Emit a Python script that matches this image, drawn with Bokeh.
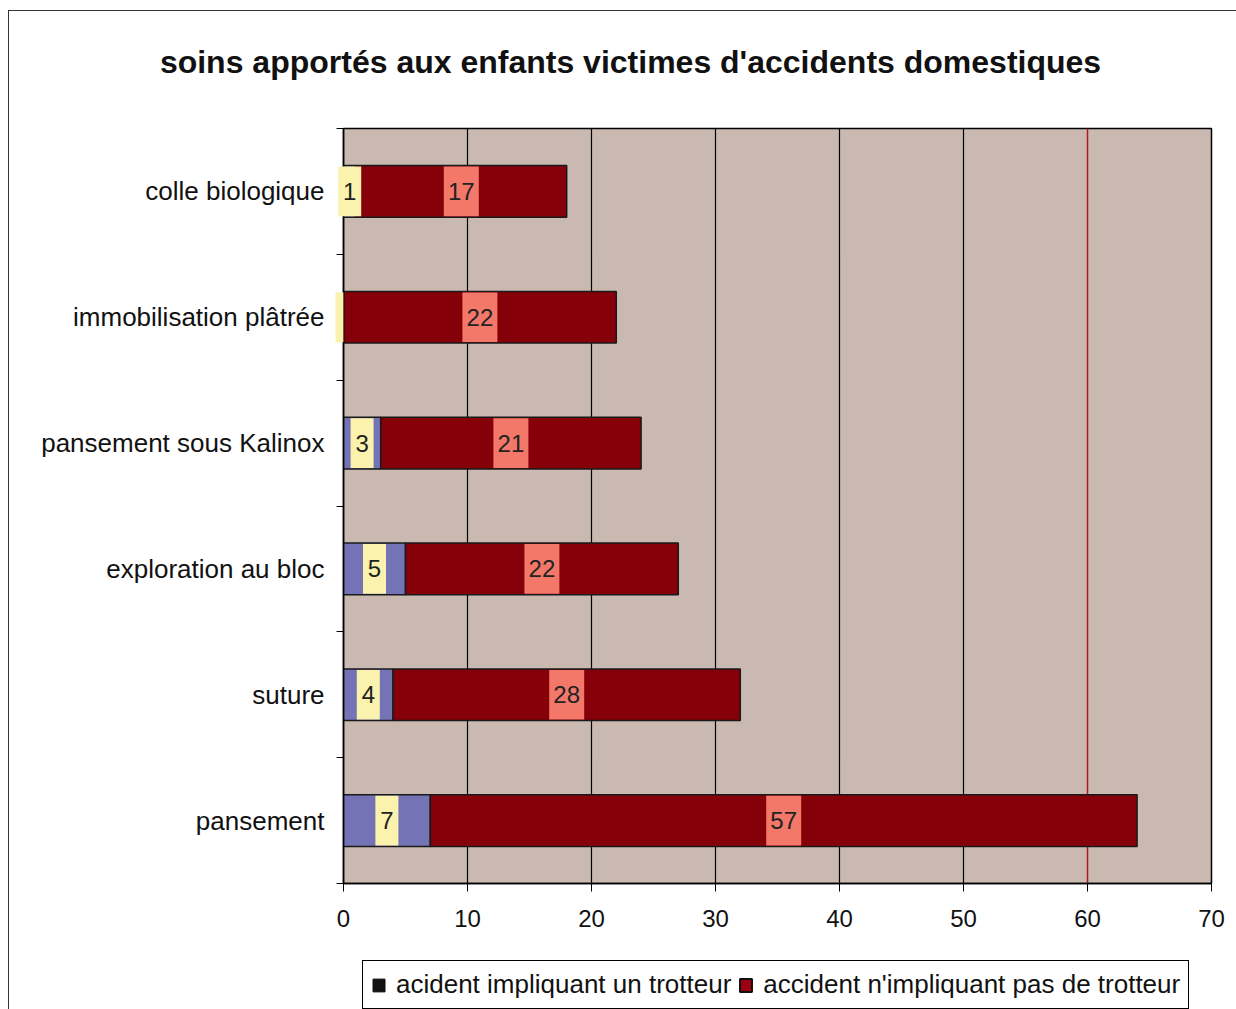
from bokeh.plotting import figure
from bokeh.layouts import column
from bokeh.models import Range1d, FixedTicker, Grid, Legend, LegendItem, Label
from bokeh.core.properties import value
from bokeh.embed import file_html
from bokeh.resources import INLINE

# ---- data ----
categories = ["colle biologique", "immobilisation plâtrée", "pansement sous Kalinox",
              "exploration au bloc", "suture", "pansement"]
trotteur = [1, 0, 3, 5, 4, 7]
non_trotteur = [17, 22, 21, 22, 28, 57]
x_ticks = [0, 10, 20, 30, 40, 50, 60, 70]
series_names = ["acident impliquant un trotteur", "accident n'impliquant pas de trotteur"]
title_text = "soins apportés aux enfants victimes d'accidents domestiques"

FONT = "Liberation Sans"
TAN = "#c9b9b1"
LAVENDER = "#7373b5"
DARKRED = "#850008"
SALMON = "#f3786a"
YELLOW = "#fbf3ad"

n = len(categories)
ys = [n - i - 0.5 for i in range(n)]           # first category at top
totals = [a + b for a, b in zip(trotteur, non_trotteur)]
tr_mid = [a / 2 for a in trotteur]
nt_mid = [a + b / 2 for a, b in zip(trotteur, non_trotteur)]


def strip(height):
    f = figure(width=1227, height=height, output_backend="svg", toolbar_location=None,
               x_range=Range1d(0, 1), y_range=Range1d(0, 1),
               min_border_left=0, min_border_right=0, min_border_top=0, min_border_bottom=0)
    f.axis.visible = False
    f.grid.visible = False
    f.outline_line_color = None
    f.background_fill_color = "white"
    f.border_fill_color = "white"
    return f


# ---- title strip ----
t = strip(100)
t.frame_align = False
t.add_layout(Label(x=621, y=50, x_units="screen", y_units="screen", text=title_text,
                   text_align="center", text_baseline="middle", text_font=FONT,
                   text_font_size="32px", text_font_style="bold", text_color="#111"))

# ---- main chart ----
p = figure(width=1227, height=840, output_backend="svg", toolbar_location=None,
           x_range=Range1d(0, 70), y_range=Range1d(0, n),
           min_border_left=334, min_border_right=25, min_border_top=17, min_border_bottom=68)
p.background_fill_color = TAN
p.border_fill_color = "white"
p.outline_line_color = "black"
p.outline_line_width = 1.5

xa = p.xaxis[0]
xa.ticker = FixedTicker(ticks=x_ticks, minor_ticks=[])
xa.axis_line_color = "black"
xa.axis_line_width = 1.5
xa.major_tick_line_color = "black"
xa.major_tick_out = 8
xa.major_tick_in = 0
xa.major_label_standoff = 18
xa.major_label_text_font = FONT
xa.major_label_text_font_size = "24px"
xa.major_label_text_color = "#111"

ya = p.yaxis[0]
ya.ticker = FixedTicker(ticks=ys, minor_ticks=list(range(n + 1)))
ya.major_label_overrides = {y: c for y, c in zip(ys, categories)}
ya.axis_line_color = "black"
ya.axis_line_width = 1.5
ya.major_tick_line_color = None
ya.major_tick_out = 0
ya.major_tick_in = 0
ya.minor_tick_line_color = "black"
ya.minor_tick_out = 7
ya.minor_tick_in = 0
ya.major_label_standoff = 12
ya.major_label_text_font = FONT
ya.major_label_text_font_size = "26px"
ya.major_label_text_color = "#111"

p.ygrid.visible = False
p.xgrid.ticker = FixedTicker(ticks=[10, 20, 30, 40, 50], minor_ticks=[])
p.xgrid.grid_line_color = "black"
p.xgrid.grid_line_width = 1.2
p.add_layout(Grid(dimension=0, ticker=FixedTicker(ticks=[60], minor_ticks=[]),
                  grid_line_color="#b31a1a", grid_line_width=1.5))

h = 0.41
p.hbar(y=ys, left=0, right=trotteur, height=h, fill_color=LAVENDER,
       line_color="#1a1a1a", line_width=1.5)
p.hbar(y=ys, left=trotteur, right=totals, height=h, fill_color=DARKRED,
       line_color="#1a1a1a", line_width=1.5)


def box_w(v):
    return 11 + 12 * len(str(v)) if v else 8


tr_w = [box_w(v) for v in trotteur]
nt_w = [box_w(v) for v in non_trotteur]
tr_x = [m if v else -0.33 for m, v in zip(tr_mid, trotteur)]
p.rect(x=tr_x, y=ys, width=tr_w, width_units="screen", height=h - 0.015,
       fill_color=YELLOW, line_color=None, level="overlay")
p.rect(x=nt_mid, y=ys, width=nt_w, width_units="screen", height=h - 0.015,
       fill_color=SALMON, line_color=None, level="overlay")
p.text(x=tr_mid, y=ys, text=[str(v) if v else "" for v in trotteur],
       text_align="center", text_baseline="middle", text_font=value(FONT),
       text_font_size="24px", text_color="#222", level="overlay")
p.text(x=nt_mid, y=ys, text=[str(v) for v in non_trotteur],
       text_align="center", text_baseline="middle", text_font=value(FONT),
       text_font_size="24px", text_color="#222", level="overlay")

# ---- legend strip ----
q = strip(58)
nan = float("nan")
r1 = q.rect(x=[nan], y=[nan], width=1, height=1, fill_color="#111111", line_color="#111111")
r2 = q.rect(x=[nan], y=[nan], width=1, height=1, fill_color="#9a0010",
            line_color="#111111", line_width=2)
legend = Legend(items=[LegendItem(label=series_names[0], renderers=[r1]),
                       LegendItem(label=series_names[1], renderers=[r2])],
                orientation="horizontal", location=(19, 0),
                border_line_color="black", border_line_width=1.2, border_line_alpha=1,
                background_fill_color="white", background_fill_alpha=1,
                padding=8, spacing=7, margin=0, label_standoff=10,
                glyph_width=15, glyph_height=16, label_height=30,
                label_text_font=FONT, label_text_font_size="26px", label_text_color="#111")
q.add_layout(legend, "center")

layout = column(t, p, q, spacing=0)
layout.styles = {"margin-left": "8px", "margin-top": "10px",
                 "border-top": "1px solid #333", "border-left": "1px solid #333"}

open("out.html", "w").write(file_html(layout, INLINE))
